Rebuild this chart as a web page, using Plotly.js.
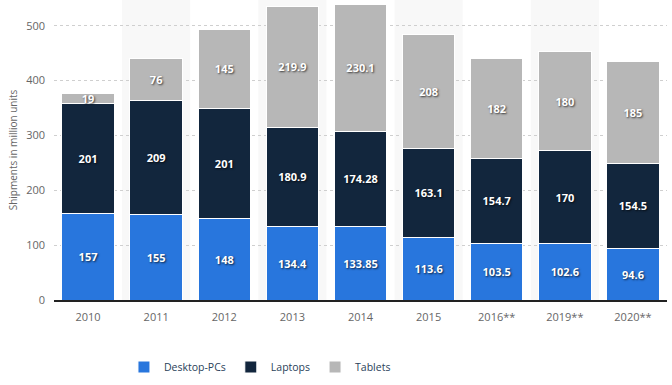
<!DOCTYPE html>
<html><head><meta charset="utf-8">
<script src="https://cdn.plot.ly/plotly-3.0.1.min.js"></script>
<style>body{margin:0;background:#fff}#c{width:672px;height:385px}</style>
</head><body><div id="c"></div>
<script>
const years = ["2010","2011","2012","2013","2014","2015","2016**","2019**","2020**"];
const desktop = [157,155,148,134.4,133.85,113.6,103.5,102.6,94.6];
const laptops = [201,209,201,180.9,174.28,163.1,154.7,170,154.5];
const tablets = [19,76,145,219.9,230.1,208,182,180,185];
const desktopLabels = ["157","155","148","134.4","133.85","113.6","103.5","102.6","94.6"];
const laptopLabels = ["201","209","201","180.9","174.28","163.1","154.7","170","154.5"];
const tabletLabels = ["19","76","145","219.9","230.1","208","182","180","185"];

const tf = {family:"Open Sans, sans-serif", size:11, color:"#fff", weight:700, shadow:"1px 1px 2px rgba(0,0,0,0.7)"};
function tr(name, y, txt, color){
  return {type:"bar", name:name, x:years, y:y, text:txt, textposition:"inside", textangle:0,
    insidetextanchor:"middle", textfont:tf, hoverinfo:"none", cliponaxis:false,
    marker:{color:color, line:{color:"#fff", width:1}}};
}
const data = [tr("Desktop-PCs", desktop, desktopLabels, "#2876dd"),
              tr("Laptops", laptops, laptopLabels, "#12263d"),
              tr("Tablets", tablets, tabletLabels, "#b7b7b7")];
const shapes = [];
years.forEach((c,i)=>{ if(i%2===1) shapes.push({type:"rect", xref:"x", yref:"paper", x0:i-0.5, x1:i+0.5, y0:0, y1:1, fillcolor:"#f8f8f8", line:{width:0}, layer:"below"}); });
const layout = {
  width:672, height:385, barmode:"stack", bargap:0.23,
  margin:{l:54, r:5, t:0, b:85, autoexpand:false},
  paper_bgcolor:"#fff", plot_bgcolor:"#fff",
  font:{family:"Open Sans, sans-serif", color:"#666", size:11},
  uniformtext:{mode:"show", minsize:11},
  shapes:shapes,
  xaxis:{type:"category", showline:true, linecolor:"#222", linewidth:1.5, ticks:"", ticklabelstandoff:6, tickfont:{size:11,color:"#666"}, showgrid:false},
  yaxis:{range:[0,547], dtick:100, showgrid:true, gridcolor:"#cfcfcf", griddash:"dot", zeroline:false,
    tickfont:{size:11,color:"#666"}, ticklen:0, ticks:"", ticklabelstandoff:8,
    title:{text:"Shipments in million units", font:{size:10,color:"#666"}, standoff:6}},
  legend:{orientation:"h", x:0.336, xanchor:"center", y:-0.175, yanchor:"top", font:{size:10.5,color:"#2a3f5a"}, traceorder:"normal", itemwidth:30},
  showlegend:true
};
Plotly.newPlot("c", data, layout, {displayModeBar:false, staticPlot:true});
</script></body></html>
